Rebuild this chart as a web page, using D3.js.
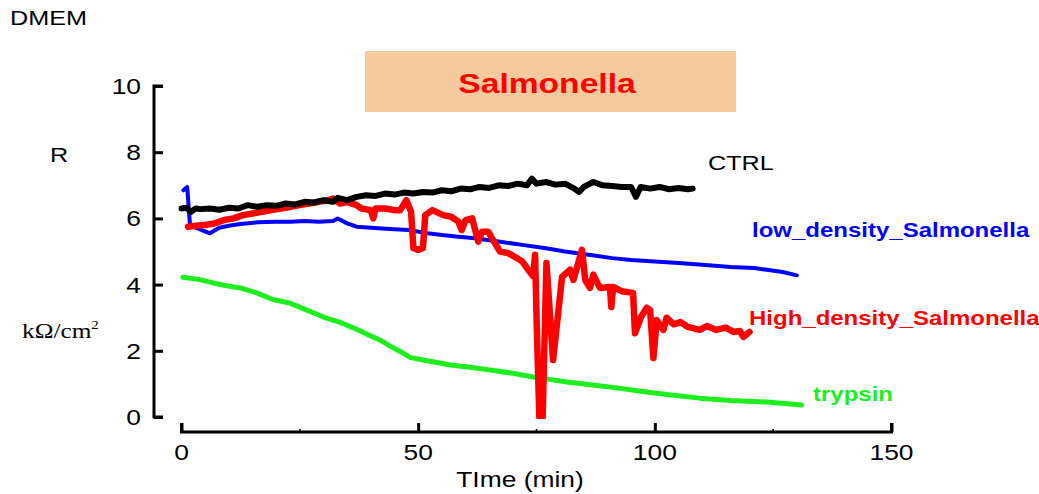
<!DOCTYPE html>
<html>
<head>
<meta charset="utf-8">
<script src="https://cdn.jsdelivr.net/npm/d3@7"></script>
<style>
  body { margin: 0; background: #fff; }
  svg text { font-family: Arial, "Liberation Sans", sans-serif; }
  svg text.serif { font-family: "Liberation Serif", "Times New Roman", serif; }
</style>
</head>
<body>
<div id="chart"></div>
<script>
// x ticks and y ticks
var xTicks = [0, 50, 100, 150];
var xMinor = [25, 75, 125];
var yTicks = [0, 2, 4, 6, 8, 10];

// series, [time (min), R (kOhm/cm2)]
var ctrl = [[0,6.3],[1,6.32],[2,6.2],[3,6.3],[4,6.28],[6,6.3],[8,6.26],[10,6.32],[12,6.3],[14,6.4],
  [16,6.35],[18,6.4],[20,6.38],[22,6.45],[24,6.42],[26,6.5],[28,6.48],[30,6.55],[32,6.5],[33,6.62],
  [35,6.55],[37,6.65],[39,6.7],[41,6.68],[43,6.75],[45,6.72],[47,6.78],[49,6.75],[51,6.8],[53,6.78],
  [55,6.85],[57,6.82],[59,6.9],[61,6.88],[63,6.95],[65,6.92],[67,7.0],[69,6.98],[71,7.05],[73,7.0],
  [74,7.2],[75,7.05],[77,7.1],[79,7.02],[81,7.05],[83,6.9],[84,6.8],[85,6.95],[87,7.1],[89,7.0],
  [91,6.98],[93,6.95],[95,6.95],[96,6.65],[97,6.95],[99,6.9],[101,6.95],[103,6.88],[105,6.92],
  [107,6.88],[108,6.9]];

var highDensity = [[1.4,5.75],[3,5.78],[5,5.8],[7,5.85],[9,5.95],[11,6.0],[13,6.1],[15,6.15],[17,6.2],
  [19,6.25],[21,6.3],[23,6.35],[25,6.4],[27,6.45],[29,6.5],[31,6.55],[32,6.6],[33.5,6.45],[35,6.5],
  [37,6.4],[38,6.3],[40,6.25],[40.5,6.0],[41,6.3],[43,6.3],[45,6.25],[46.2,6.25],[47.5,6.55],[48.5,6.2],
  [49,5.1],[50,5.05],[51,5.1],[51.5,6.1],[53,6.25],[55.3,6.1],[57,6.05],[58.5,5.9],[59.2,5.65],[60,5.95],
  [61.4,6.0],[62.7,5.3],[63.5,5.6],[64.8,5.6],[66,5.3],[67.3,5.0],[69,4.95],[70.9,4.8],[72,4.7],[73,4.5],
  [74.3,4.25],[74.7,4.9],[75.1,2.5],[75.6,0],[76.3,0],[77.1,4.65],[78.5,1.72],[80.4,4.23],[82.1,4.45],
  [82.8,4.14],[84.6,5.05],[85.3,4.14],[86.3,3.9],[87,4.3],[88.4,3.9],[90.5,3.93],[90.8,3.32],[91.2,3.93],
  [93,3.8],[95.4,3.75],[95.8,2.53],[96.9,2.95],[97.2,3.05],[98.3,3.3],[99,3.23],[99.7,1.78],[100.4,2.93],
  [101.8,2.63],[102.5,3.0],[104,2.8],[105.4,2.87],[107,2.72],[109.5,2.63],[111,2.75],[113,2.63],
  [115,2.7],[116.6,2.57],[118,2.6],[118.7,2.42],[120,2.57]];

var lowDensity = [[0.4,6.85],[1.2,6.95],[1.8,5.8],[3,5.72],[6,5.55],[8,5.72],[10,5.78],[12.4,5.83],
  [16,5.88],[20,5.9],[23,5.9],[26,5.92],[29,5.9],[32,5.92],[33,6.0],[35,5.85],[37,5.75],[40,5.72],
  [44,5.68],[48,5.65],[52,5.55],[55,5.5],[58,5.45],[62,5.4],[67,5.3],[72,5.2],[77,5.1],[81,5.0],
  [86,4.9],[91,4.8],[95,4.74],[100,4.7],[105,4.65],[110,4.6],[116,4.53],[121,4.5],[124,4.44],
  [127,4.38],[130,4.28]];

var trypsin = [[0.3,4.22],[3.9,4.15],[6.7,4.05],[9,3.98],[12.4,3.9],[15.9,3.75],[19.3,3.55],[22.9,3.44],
  [26.5,3.23],[30,3.02],[33.5,2.86],[37,2.65],[40,2.45],[42,2.32],[44,2.15],[46.2,1.98],[48.3,1.8],
  [51,1.72],[54.6,1.63],[56.8,1.57],[61,1.5],[65.2,1.42],[70,1.32],[74.3,1.21],[78,1.13],[81.4,1.06],
  [86,0.98],[92,0.88],[97,0.78],[102.5,0.68],[109.5,0.57],[116,0.5],[123.7,0.45],[128,0.4],[131,0.36]];

var W = 1039, H = 494;
var svg = d3.select('#chart').append('svg').attr('width', W).attr('height', H);
svg.append('rect').attr('width', W).attr('height', H).attr('fill', '#fff');

var x = d3.scaleLinear().domain([0, 150]).range([181.5, 891.5]);
var y = d3.scaleLinear().domain([0, 10]).range([417, 86]);

// text helper, the reference fonts look a bit wide
var sx = 1.2;
function label(txt, px, py, size, color, weight, anchor) {
  svg.append('text')
    .attr('transform', 'translate(' + px + ',' + py + ') scale(' + sx + ',1)')
    .attr('font-size', size).attr('fill', color)
    .attr('font-weight', weight || 'normal')
    .attr('text-anchor', anchor || 'start')
    .text(txt);
}

// title box
svg.append('rect').attr('x', 365).attr('y', 51).attr('width', 371).attr('height', 61).attr('fill', '#F5CA9D');
label('Salmonella', 547, 93, 28, '#ff0000', 'bold', 'middle');

// y axis
var yAxis = d3.axisRight(y).tickValues(yTicks).tickSize(9).tickFormat('');
var gy = svg.append('g').attr('transform', 'translate(154,0)').call(yAxis);
gy.select('.domain').attr('d', 'M9,' + y(10) + 'H0V' + y(0) + 'H9').attr('stroke-width', 3).attr('fill', 'none');
gy.selectAll('.tick line').attr('stroke-width', 3);
yTicks.forEach(function (v) { label(String(v), 141, y(v) + 8, 22, '#000', 'normal', 'end'); });

// x axis
var xAxis = d3.axisTop(x).tickValues(xTicks).tickSize(9).tickFormat('');
var gx = svg.append('g').attr('transform', 'translate(0,432)').call(xAxis);
gx.select('.domain').attr('d', 'M' + x(0) + ',-9V0H' + x(150) + 'V-9').attr('stroke-width', 3).attr('fill', 'none');
gx.selectAll('.tick line').attr('stroke-width', 3);
gx.selectAll('.minor').data(xMinor).enter().append('line').attr('class', 'minor')
  .attr('x1', function (d) { return x(d); }).attr('x2', function (d) { return x(d); })
  .attr('y1', -3).attr('y2', 0).attr('stroke', '#000').attr('stroke-width', 1.5);
xTicks.forEach(function (v) { label(String(v), x(v), 460, 22, '#000', 'normal', 'middle'); });

// axis titles and side labels
label('TIme (min)', 520, 487, 22, '#000', 'normal', 'middle');
label('DMEM', 10, 25, 21, '#000');
label('R', 50, 162, 21, '#000');
var unit = svg.append('text').attr('class', 'serif')
  .attr('transform', 'translate(22,338) scale(1.15,1)')
  .attr('font-size', 22).attr('fill', '#000');
unit.append('tspan').text('k\u03A9/cm');
unit.append('tspan').attr('font-size', 13).attr('dy', -9).text('2');

// lines
svg.append('clipPath').attr('id', 'plotclip').append('rect')
  .attr('x', 160).attr('y', 60).attr('width', 760).attr('height', y(0) + 2 - 60);

var line = d3.line().x(function (d) { return x(d[0]); }).y(function (d) { return y(d[1]); });
var plot = svg.append('g').attr('clip-path', 'url(#plotclip)');
function drawSeries(data, color, width) {
  plot.append('path').datum(data).attr('d', line)
    .attr('fill', 'none').attr('stroke', color).attr('stroke-width', width)
    .attr('stroke-linejoin', 'round').attr('stroke-linecap', 'round');
}
drawSeries(trypsin, '#1EEE1E', 5);
drawSeries(lowDensity, '#0000ff', 4);
drawSeries(highDensity, '#ff0000', 6.5);
drawSeries(ctrl, '#000000', 6);

// series labels
label('CTRL', 708, 170, 21, '#000');
label('low_density_Salmonella', 752, 237, 20, '#0000ff', 'bold');
label('High_density_Salmonella', 749, 325, 20, '#ff0000', 'bold');
label('trypsin', 813, 401, 20, '#1EEE1E', 'bold');
</script>
</body>
</html>
